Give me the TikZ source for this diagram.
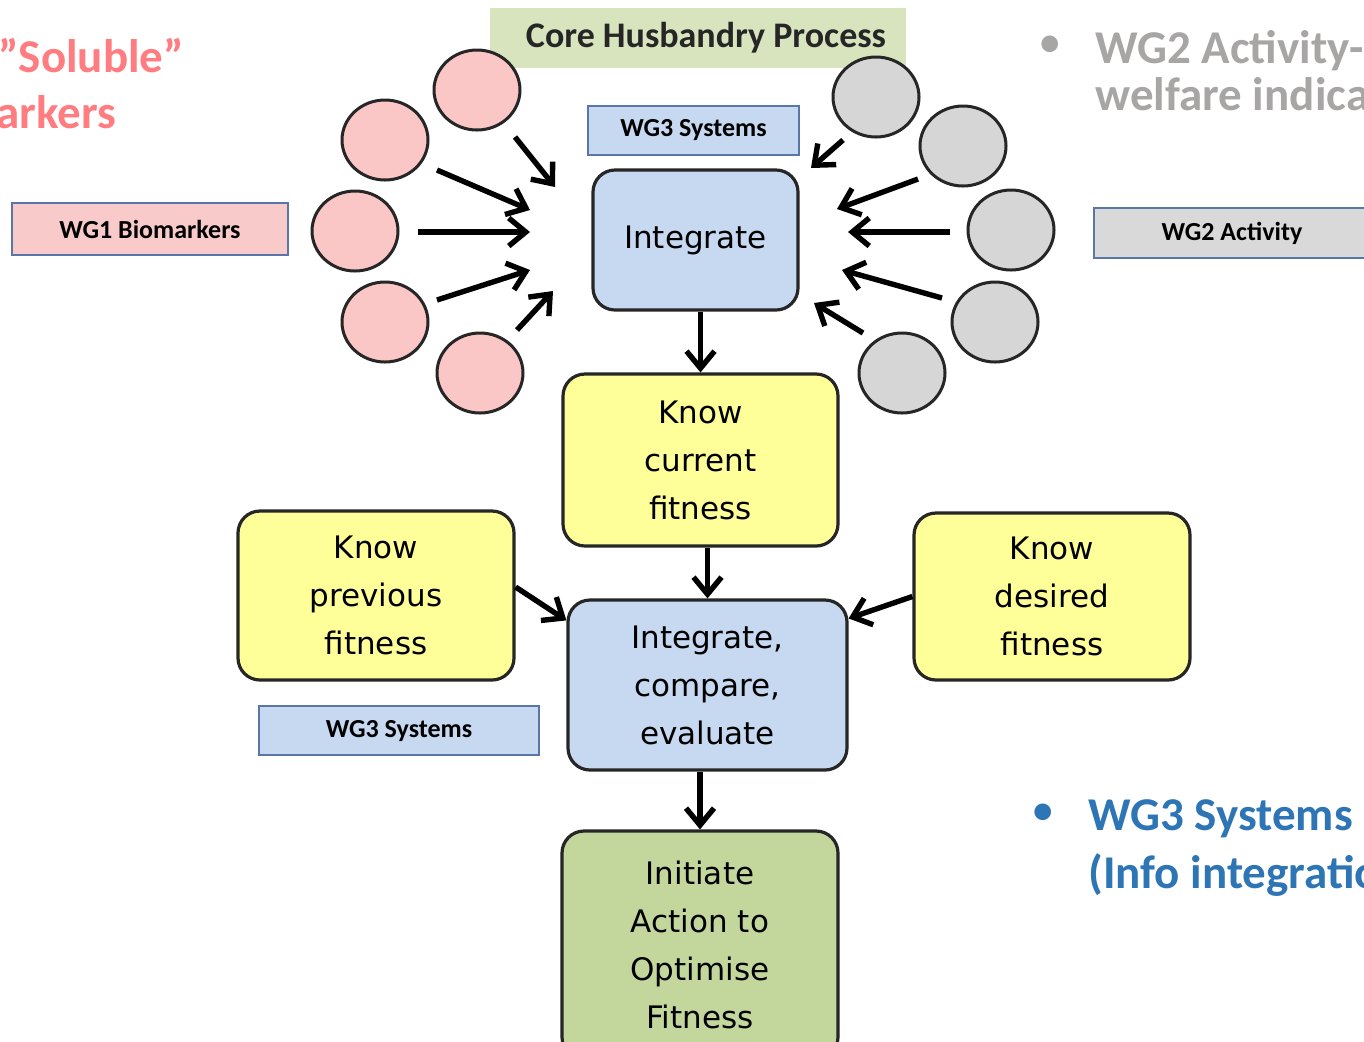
\documentclass[tikz,border=0pt]{standalone}
\usepackage{fontspec}
\setmainfont{DejaVu Sans}
\newfontfamily\carlito{Carlito}
\usetikzlibrary{arrows.meta,shapes.geometric,calc}

\definecolor{boxblue}{HTML}{C6D9F1}
\definecolor{boxyellow}{HTML}{FFFF99}
\definecolor{boxgreen}{HTML}{C3D69B}
\definecolor{bandgreen}{HTML}{D7E4BD}
\definecolor{pinkfill}{HTML}{FAC6C6}
\definecolor{grayfill}{HTML}{D6D6D6}
\definecolor{labelpink}{HTML}{F8CACA}
\definecolor{labelgray}{HTML}{D9D9D9}
\definecolor{labeledge}{HTML}{5A76A8}
\definecolor{boxedge}{HTML}{262626}
\definecolor{pinktext}{HTML}{FF7C80}
\definecolor{graytext}{HTML}{A8A5A5}
\definecolor{bluetext}{HTML}{2E75B6}

\begin{document}
\begin{tikzpicture}[x=0.5pt,y=-0.5pt,
  procbox/.style={draw=boxedge, line width=1.6pt, rounded corners=11pt,
    align=center, inner sep=0pt, font=\fontsize{15.5}{24}\selectfont},
  wglabel/.style={draw=labeledge, line width=1pt, inner sep=0pt,
    font=\carlito\bfseries\fontsize{13}{15}\selectfont},
  blob/.style={ellipse, draw=boxedge, line width=1.5pt, inner sep=0pt,
    minimum width=43pt, minimum height=40pt},
  arr/.style={line width=2.7pt, -{Straight Barb[length=8.5pt,width=14pt]}},
  sidetext/.style={anchor=base west, inner sep=0pt,
    font=\carlito\bfseries\fontsize{23.5}{28}\selectfont},
  bullet/.style={inner sep=0pt, font=\carlito\fontsize{23.5}{28}\selectfont}]

\useasboundingbox (0,0) rectangle (1364,1041);
\clip (0,0) rectangle (1364,1041);
\fill[white] (0,0) rectangle (1364,1041);

% side texts
\node[sidetext, text=pinktext] (sol1) at (-2,72) {”Soluble”};
\node[sidetext, text=pinktext] (sol2) at (-4,128) {arkers};
\node[bullet, text=graytext] (bul2) at (1050,47) {•};
\node[sidetext, text=graytext] (act1) at (1095,63) {WG2 Activity-};
\node[sidetext, text=graytext] (act2) at (1095,110) {welfare indica};
\node[bullet, text=bluetext] (bul3) at (1043,815) {•};
\node[sidetext, text=bluetext] (sys1) at (1088,830) {WG3 Systems};
\node[sidetext, text=bluetext] (sys2) at (1088,888) {(Info integratio};

% title band
\node[fill=bandgreen, minimum width=208pt, minimum height=30pt, inner sep=0pt] (core) at (698,38) {};
\node[inner sep=0pt, font=\carlito\bfseries\fontsize{18}{20}\selectfont, text=black!85] (coretxt) at (706,38) {Core Husbandry Process};

% working group labels
\node[wglabel, fill=labelpink, minimum width=138pt, minimum height=26pt] (wg1) at (150,229) {WG1 Biomarkers};
\node[wglabel, fill=labelgray, minimum width=138pt, minimum height=25pt] (wg2) at (1232,233) {WG2 Activity};
\node[wglabel, fill=boxblue, minimum width=105.5pt, minimum height=24.5pt] (wg3a) at (693.5,130.5) {WG3 Systems};
\node[wglabel, fill=boxblue, minimum width=140pt, minimum height=24.5pt] (wg3b) at (399,730.5) {WG3 Systems};

% input circles
\node[blob, fill=pinkfill] (p1) at (477,90) {};
\node[blob, fill=pinkfill] (p2) at (385,140) {};
\node[blob, fill=pinkfill] (p3) at (355,231) {};
\node[blob, fill=pinkfill] (p4) at (385,322) {};
\node[blob, fill=pinkfill] (p5) at (480,373) {};
\node[blob, fill=grayfill] (g1) at (876,97) {};
\node[blob, fill=grayfill] (g2) at (963,146) {};
\node[blob, fill=grayfill] (g3) at (1011,230) {};
\node[blob, fill=grayfill] (g4) at (995,322) {};
\node[blob, fill=grayfill] (g5) at (902,373) {};

% process boxes
\node[procbox, fill=boxblue, minimum width=102.5pt, minimum height=70pt] (integ) at (695.5,240) {\raisebox{-1.5pt}{Integrate}};
\node[procbox, fill=boxyellow, minimum width=137.5pt, minimum height=86pt] (current) at (700.5,460) {Know\\current\\fitness};
\node[procbox, fill=boxyellow, minimum width=138pt, minimum height=84.5pt] (prev) at (376,595.5) {Know\\previous\\fitness};
\node[procbox, fill=boxyellow, minimum width=138pt, minimum height=83.5pt] (desired) at (1052,596.5) {Know\\desired\\fitness};
\node[procbox, fill=boxblue, minimum width=139.5pt, minimum height=85pt] (ice) at (707.5,685) {Integrate,\\compare,\\evaluate};
\node[procbox, fill=boxgreen, minimum width=138pt, minimum height=114pt] (init) at (700,945) {Initiate\\Action to\\Optimise\\Fitness};

% arrow ends around the integration step
\coordinate (a1s) at (515,137); \coordinate (a1e) at (555,187);
\coordinate (a2s) at (437,170); \coordinate (a2e) at (530,210);
\coordinate (a3s) at (418,232); \coordinate (a3e) at (530,232);
\coordinate (a4s) at (437,300); \coordinate (a4e) at (530,270);
\coordinate (a5s) at (517,330); \coordinate (a5e) at (553,291);
\coordinate (b1s) at (843,140); \coordinate (b1e) at (811,168);
\coordinate (b2s) at (918,179); \coordinate (b2e) at (837,209);
\coordinate (b3s) at (950,232); \coordinate (b3e) at (848,232);
\coordinate (b4s) at (942,298); \coordinate (b4e) at (842,270);
\coordinate (b5s) at (863,333); \coordinate (b5e) at (814,303);

\foreach \s in {a1,a2,a3,a4,a5,b1,b2,b3,b4,b5}
  \draw[arr] (\s s) -- (\s e);

% process flow
\draw[arr] (integ.south -| current.north) -- (current.north);
\draw[arr] (current.south -| ice.north) -- (ice.north);
\draw[arr] (ice.south -| init.north) -- (init.north);
\draw[arr] (prev.east) ++(0,-8.5) -- ($(ice.north west)+(0,22)$);
\draw[arr] (desired.west) -- ($(ice.north east)+(0,20)$);

\end{tikzpicture}
\end{document}
